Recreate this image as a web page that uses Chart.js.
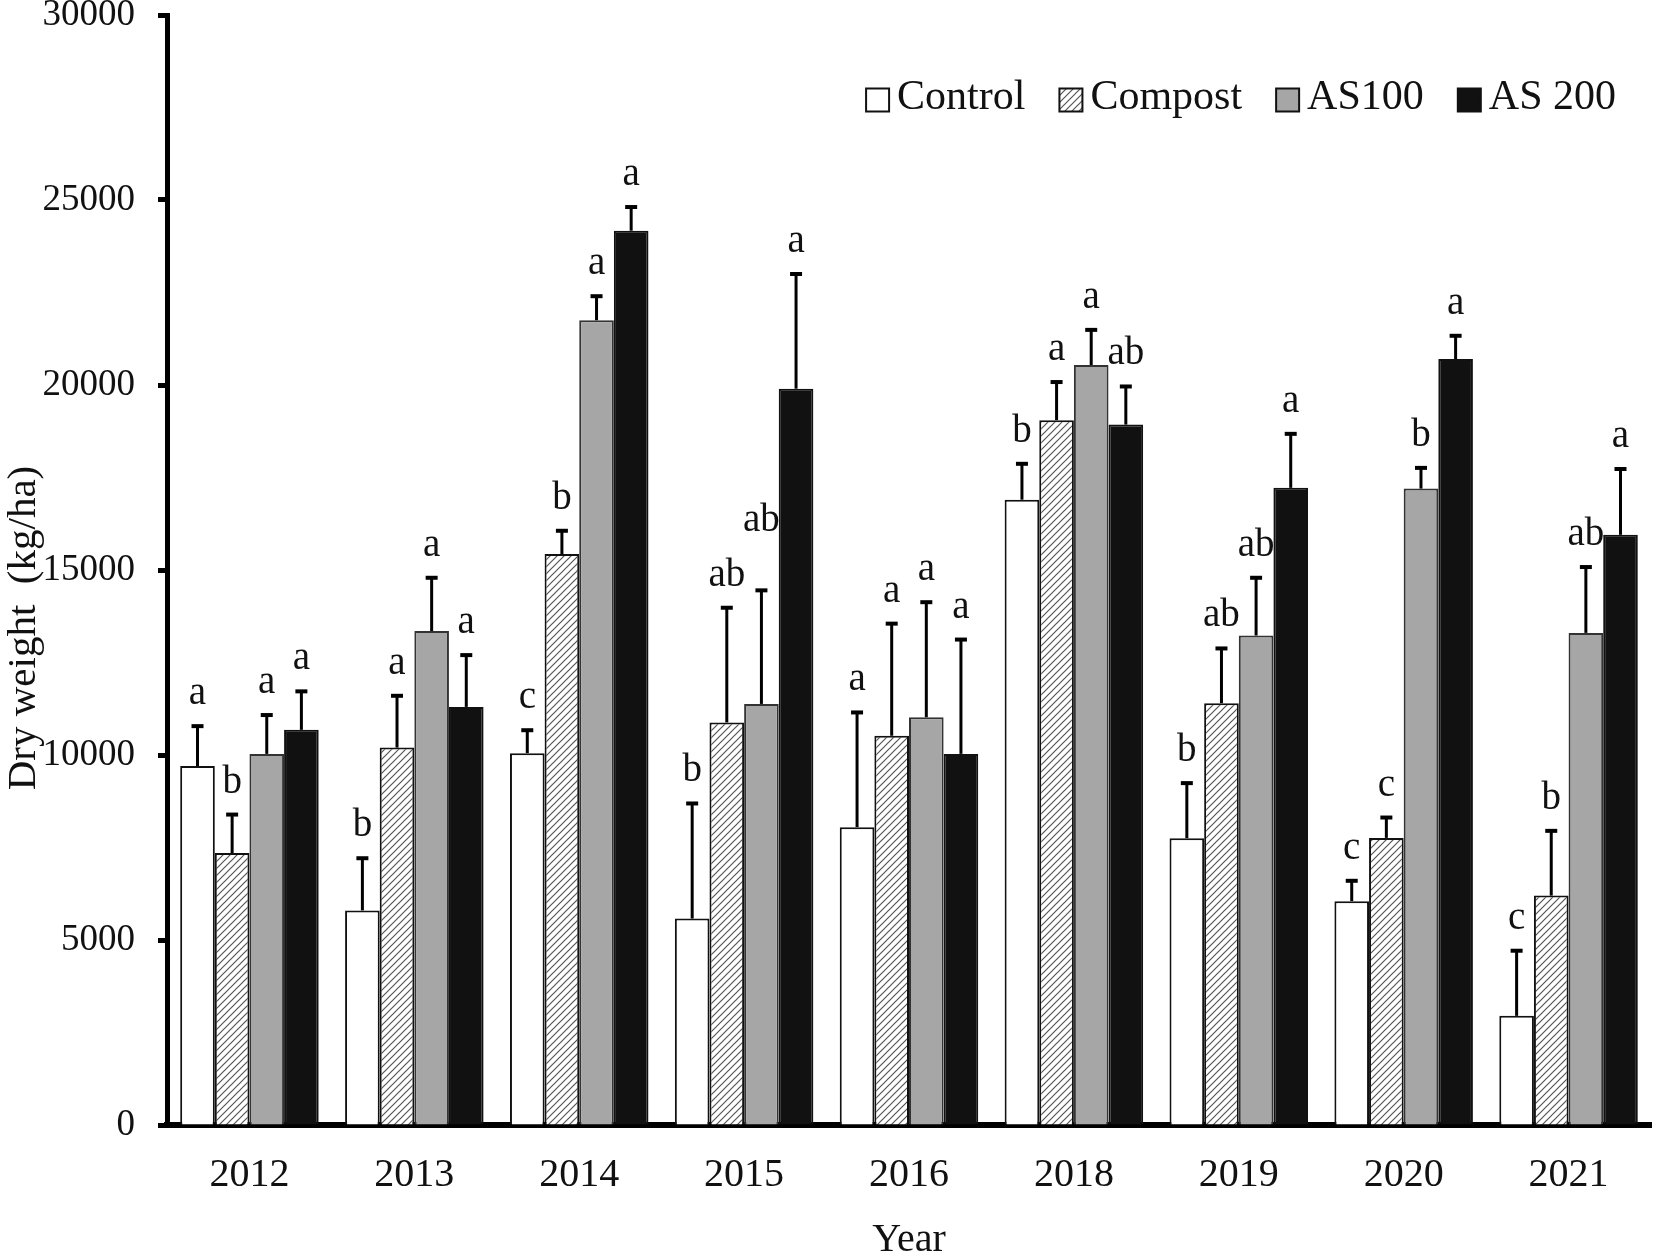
<!DOCTYPE html>
<html>
<head>
<meta charset="utf-8">
<script src="https://cdn.jsdelivr.net/npm/chart.js@4.4.1/dist/chart.umd.min.js"></script>
<style>
  html, body { margin: 0; padding: 0; background: #fff; }
  #chart { display: block; }
</style>
</head>
<body>
<canvas id="chart" width="1654" height="1251"></canvas>
<script>
// dry weight per year and treatment
const years = ['2012', '2013', '2014', '2015', '2016', '2018', '2019', '2020', '2021'];

const control    = [9700, 5800, 10050, 5580, 8050, 16900, 7750, 6050, 2950];
const controlErr = [1080, 1410, 620, 3110, 3100, 970, 1490, 550, 1760];
const compost    = [7350, 10200, 15430, 10880, 10520, 19050, 11400, 7760, 6200];
const compostErr = [1040, 1400, 630, 3100, 3030, 1030, 1480, 550, 1750];
const as100      = [10030, 13350, 21750, 11380, 11020, 20540, 13230, 17200, 13300];
const as100Err   = [1050, 1440, 650, 3070, 3110, 950, 1560, 560, 1780];
const as200      = [10680, 11300, 24170, 19900, 10030, 18930, 17220, 20700, 15950];
const as200Err   = [1040, 1400, 640, 3100, 3090, 1030, 1460, 630, 1780];

// significance letters
const controlLetters = ['a', 'b', 'c', 'b', 'a', 'b', 'b', 'c', 'c'];
const compostLetters = ['b', 'a', 'b', 'ab', 'a', 'a', 'ab', 'c', 'b'];
const as100Letters   = ['a', 'a', 'a', 'ab', 'a', 'a', 'ab', 'b', 'ab'];
const as200Letters   = ['a', 'a', 'a', 'a', 'a', 'ab', 'a', 'a', 'a'];

const yTicks = [0, 5000, 10000, 15000, 20000, 25000, 30000];

const FONT = '"Liberation Serif", "Times New Roman", serif';
const canvas = document.getElementById('chart');
const ctx = canvas.getContext('2d');

function hatch(){
  const c = document.createElement('canvas');
  c.width = 7; c.height = 7;
  const g = c.getContext('2d');
  g.fillStyle = '#fff'; g.fillRect(0, 0, 7, 7);
  g.strokeStyle = '#555'; g.lineWidth = 1.2;
  g.beginPath();
  g.moveTo(0, 7); g.lineTo(7, 0);
  g.moveTo(-1, 1); g.lineTo(1, -1);
  g.moveTo(6, 8); g.lineTo(8, 6);
  g.stroke();
  return ctx.createPattern(c, 'repeat');
}

const series = [
  { label: 'Control', data: control, err: controlErr, letters: controlLetters, fill: '#fff', border: '#111' },
  { label: 'Compost', data: compost, err: compostErr, letters: compostLetters, fill: hatch(), border: '#111' },
  { label: 'AS100', data: as100, err: as100Err, letters: as100Letters, fill: '#a6a6a6', border: '#333' },
  { label: 'AS 200', data: as200, err: as200Err, letters: as200Letters, fill: '#111', border: '#111' }
];

// error bars + letters on top of each bar
const errorBars = {
  id: 'errorBars',
  afterDatasetsDraw(chart){
    const g = chart.ctx, ys = chart.scales.y;
    g.save();
    g.font = '39px ' + FONT;
    g.textAlign = 'center';
    g.textBaseline = 'alphabetic';
    years.forEach((_, i) => {
      let prev = null;
      series.forEach((s, di) => {
        const bar = chart.getDatasetMeta(di).data[i];
        const top = ys.getPixelForValue(s.data[i] + s.err[i]);
        g.strokeStyle = '#000';
        g.lineWidth = 3;
        g.beginPath(); g.moveTo(bar.x, bar.y); g.lineTo(bar.x, top); g.stroke();
        g.lineWidth = 4;
        g.beginPath(); g.moveTo(bar.x - 6, top); g.lineTo(bar.x + 6, top); g.stroke();

        const w = g.measureText(s.letters[i]).width;
        let ly = top - 22;
        // lift a letter that would run into its neighbour
        if(prev && Math.abs(bar.x - prev.x) < (w + prev.w) / 2 + 2 && Math.abs(ly - prev.y) < 36) ly = prev.y - 55;
        g.fillStyle = '#111';
        g.fillText(s.letters[i], bar.x, ly);
        prev = { x: bar.x, y: ly, w };
      });
    });
    g.restore();
  }
};

// legend top right and y title, drawn by hand
const extras = {
  id: 'extras',
  afterDraw(chart){
    const g = chart.ctx, area = chart.chartArea;
    const box = 23, gap = 8, itemGap = 34, cy = 98;
    g.save();
    g.font = '42px ' + FONT;
    g.textBaseline = 'middle';
    g.textAlign = 'left';
    const widths = series.map(s => box + gap + g.measureText(s.label).width);
    let x = area.right - 35 - widths.reduce((a, b) => a + b, 0) - itemGap * (series.length - 1);
    series.forEach((s, i) => {
      g.fillStyle = s.fill;
      g.fillRect(x, cy - box / 2 + 2, box, box);
      g.strokeStyle = '#111'; g.lineWidth = 2;
      g.strokeRect(x, cy - box / 2 + 2, box, box);
      g.fillStyle = '#111';
      g.fillText(s.label, x + box + gap, cy);
      x += widths[i] + itemGap;
    });

    g.translate(24, 628);
    g.rotate(-Math.PI / 2);
    g.font = '41px ' + FONT;
    g.textAlign = 'center';
    g.fillText('Dry weight  (kg/ha)', 0, 0);
    g.restore();
  }
};

new Chart(ctx, {
  type: 'bar',
  data: {
    labels: years,
    datasets: series.map(s => ({
      label: s.label,
      data: s.data,
      backgroundColor: s.fill,
      borderColor: s.border,
      borderWidth: 2,
      barPercentage: 1.0,
      categoryPercentage: 0.84
    }))
  },
  options: {
    responsive: false,
    animation: false,
    devicePixelRatio: 1,
    layout: { padding: { top: 15, right: 3, left: 0, bottom: 0 } },
    plugins: { legend: { display: false }, tooltip: { enabled: false } },
    scales: {
      x: {
        grid: { display: false, drawTicks: false },
        border: { display: true, width: 6, color: '#000' },
        ticks: { color: '#111', font: { family: FONT, size: 40 }, padding: 26 },
        title: { display: true, text: 'Year', color: '#111', font: { family: FONT, size: 40 }, padding: { top: 0, bottom: -13 } },
        afterFit(s){ s.height = 126; s.paddingLeft = 0; s.paddingRight = 0; }
      },
      y: {
        min: 0, max: 30000,
        grid: { drawOnChartArea: false, drawTicks: true, tickLength: 9, tickWidth: 5, tickColor: '#000' },
        border: { display: true, width: 5, color: '#000' },
        afterBuildTicks(s){ s.ticks = yTicks.map(v => ({ value: v })); },
        ticks: { color: '#111', font: { family: FONT, size: 37 }, padding: 23, callback: v => String(v) },
        title: { display: false },
        afterFit(s){ s.width = 167; s.paddingTop = 0; s.paddingBottom = 0; }
      }
    }
  },
  plugins: [errorBars, extras]
});
</script>
</body>
</html>
